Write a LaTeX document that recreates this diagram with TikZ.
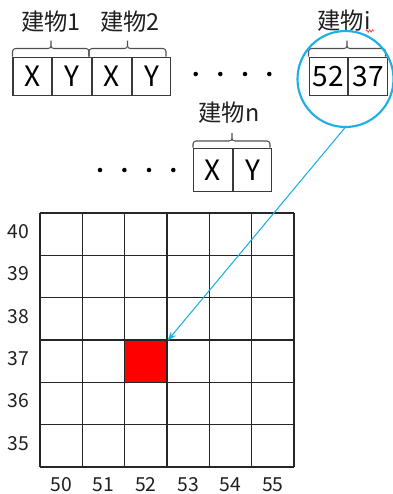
\documentclass[tikz,border=0pt]{standalone}
\usepackage{fontspec}
\newfontfamily\cjk{Noto Sans CJK SC}
\usetikzlibrary{arrows.meta,decorations.pathmorphing}
\definecolor{cyanline}{HTML}{1CB0E6}
\definecolor{boxgray}{HTML}{3A3A3A}
\definecolor{bracegray}{HTML}{505050}
\newcommand\drawbrace[6]{% x1, xm, x2, boxtop, ybar, ytip
  \draw[bracestyle] (#1,#4) -- (#1,#5+3) to[out=90,in=180] (#1+3,#5) -- (#2-3,#5)
    to[out=0,in=-90] (#2,#5-2.5) -- (#2,#6);
  \draw[bracestyle] (#2,#5-2.5) to[out=-90,in=180] (#2+3,#5) -- (#3-3,#5)
    to[out=0,in=90] (#3,#5+3) -- (#3,#4);
}
\begin{document}
\begin{tikzpicture}[x=0.75pt,y=-0.75pt,
  bracestyle/.style={draw=bracegray, line width=0.8pt},
  namelbl/.style={font=\cjk\fontsize{17.5}{20}\selectfont, inner sep=0, text=black!88},
  boxcell/.style={draw=boxgray, line width=0.9pt, inner sep=0, minimum width=28.9pt,
    minimum height=28.6pt, font=\cjk\fontsize{21}{24}\selectfont},
  axlbl/.style={font=\cjk\fontsize{14.5}{16}\selectfont, inner sep=0, text=black!88},
  gridline/.style={draw=black!85, line width=1.1pt},
  dot/.style={circle, fill=black, inner sep=0, minimum size=3.4pt}]
\useasboundingbox (0,0) rectangle (393,494);

% ---- 建物1 and 建物2 ----
\node[namelbl] (n1) at (51,22) {建物1};
\node[namelbl] (n2) at (130,22) {建物2};
\node[boxcell, anchor=north west] (x1) at (12.5,56.5) {X};
\node[boxcell, anchor=west] (y1) at (x1.east) {Y};
\node[boxcell, anchor=west] (x2) at (y1.east) {X};
\node[boxcell, anchor=west] (y2) at (x2.east) {Y};
\drawbrace{12.5}{51}{89}{56.5}{48.5}{40.5}
\drawbrace{89}{127.5}{166}{56.5}{48.5}{40.5}

% ---- dots row 1 ----
\foreach \xx [count=\k] in {195.7,220.3,245,269.3} \node[dot] (da\k) at (\xx,74) {};

% ---- 建物i ----
\node[namelbl] (ni) at (344,20.5) {建物i};
\draw[red!80, line width=0.5pt, decorate, decoration={zigzag, segment length=2.2pt, amplitude=0.9pt}]
  (366,31) -- (374,31);
\node[boxcell, anchor=north west] (xi) at (308.5,56.5) {52};
\node[boxcell, anchor=west] (yi) at (xi.east) {37};
\drawbrace{308.5}{347}{385.5}{56.5}{48.5}{40.5}
\node[draw=cyanline, line width=1.6pt, circle, minimum size=72pt, inner sep=0] (mag) at (345.5,79) {};

% ---- 建物n ----
\node[namelbl] (nn) at (229,112.5) {建物n};
\node[boxcell, anchor=north west, minimum height=32.5pt] (xn) at (193,147.5) {X};
\node[boxcell, anchor=west, minimum height=32.5pt] (yn) at (xn.east) {Y};
\drawbrace{193}{232}{270}{147.5}{141}{133}

% ---- dots row 2 ----
\foreach \xx [count=\k] in {100,124.4,149,173.3} \node[dot] (db\k) at (\xx,170) {};

% ---- grid ----
\node[fill=red, inner sep=0, minimum size=31.75pt, anchor=north west] (target) at (124.67,340.67) {};
\foreach \i in {0,...,6} {
  \draw[gridline] (40+42.333*\i,213) -- (40+42.333*\i,467);
  \draw[gridline] (40,213+42.333*\i) -- (294,213+42.333*\i);
}
\foreach \v [count=\i from 0] in {40,39,38,37,36,35}
  \node[axlbl] (r\v) at (18.5,231.5+42.333*\i) {\v};
\foreach \v [count=\i from 0] in {50,51,52,53,54,55}
  \node[axlbl] (c\v) at (61.2+42.333*\i,484.5) {\v};

% ---- connector ----
\draw[cyanline, line width=0.8pt, -{Stealth[length=7pt,width=5pt]}] (mag.-91) -- (target.north east);
\end{tikzpicture}
\end{document}
